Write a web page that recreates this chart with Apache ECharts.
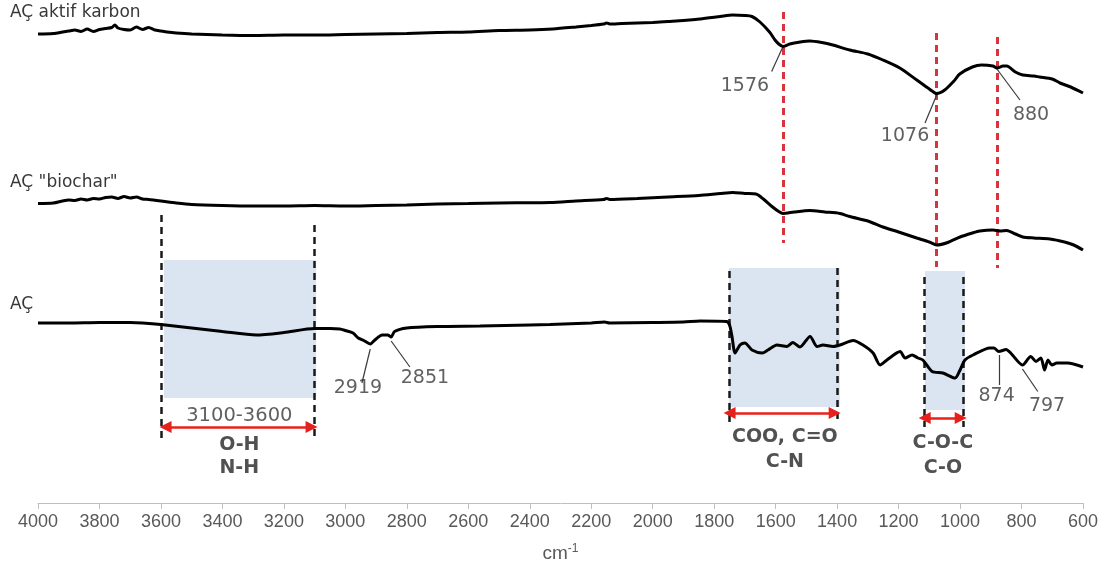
<!DOCTYPE html>
<html>
<head>
<meta charset="utf-8">
<script src="https://cdn.jsdelivr.net/npm/echarts@6/dist/echarts.min.js"></script>
<style>
  html, body { margin: 0; padding: 0; background: #fff; }
  #chart { width: 1102px; height: 568px; }
</style>
</head>
<body>
<div id="chart"></div>
<script>
// FTIR spectra (wavenumber in cm-1, offset transmittance in arbitrary units)
const karbonWn = [4000,3950,3920,3900,3880,3860,3840,3820,3800,3780,3760,3750,3740,3720,3700,3680,3660,3640,3620,3600,3580,3550,3500,3400,3300,3200,3100,3000,2900,2800,2700,2600,2500,2400,2325,2250,2200,2160,2150,2140,2100,2000,1950,1900,1846,1780,1740,1700,1677,1651,1620,1602,1590,1576,1554,1520,1489,1450,1414,1359,1300,1251,1196,1141,1100,1076,1050,1020,1001,960,930,893,880,860,848,820,796,760,741,700,675,640,600];
const karbonT = [93.8,93.9,94.2,94.4,94.6,94.3,94.8,94.3,94.7,94.9,95.1,95.6,95.0,94.7,94.6,95.2,94.7,95.1,94.6,94.4,94.2,94.0,93.8,93.6,93.5,93.6,93.6,93.7,93.8,93.9,94.1,94.2,94.5,94.6,94.8,95.2,95.5,95.8,96.0,95.8,95.9,96.1,96.3,96.5,96.8,97.3,97.6,97.5,97.3,96.2,94.2,92.6,91.8,91.3,91.8,92.2,92.4,92.1,91.6,90.6,89.8,88.6,87.0,84.6,82.8,81.9,82.6,84.4,85.8,87.2,87.6,87.4,87.0,87.4,87.4,86.2,85.6,85.4,85.2,84.8,84.0,83.2,82.0];

const biocharWn = [4000,3950,3920,3900,3880,3860,3840,3820,3800,3780,3760,3740,3720,3700,3680,3660,3640,3600,3550,3500,3400,3300,3200,3100,3000,2900,2800,2700,2600,2500,2334,2250,2160,2150,2140,2050,1950,1850,1780,1739,1700,1664,1640,1612,1590,1576,1540,1489,1440,1391,1359,1300,1251,1200,1141,1100,1076,1040,1000,960,936,893,870,848,820,796,760,708,660,630,600];
const biocharT = [59.9,60.0,60.4,60.6,60.5,60.8,60.6,60.9,60.8,61.1,61.2,60.9,61.3,61.0,61.2,60.8,60.7,60.4,60.0,59.7,59.5,59.4,59.4,59.5,59.4,59.5,59.6,59.8,59.9,60.0,60.1,60.4,60.7,60.9,60.7,60.9,61.2,61.5,61.9,62.1,61.9,61.8,60.8,59.3,58.3,57.9,58.2,58.5,58.2,57.9,57.3,56.4,55.2,54.2,53.0,52.2,51.6,52.1,53.2,54.0,54.4,54.6,54.4,54.5,53.8,53.2,53.0,52.8,52.2,51.6,50.6];

const acWn = [4000,3900,3800,3700,3660,3600,3500,3400,3290,3200,3100,3050,3018,3000,2975,2958,2940,2919,2904,2880,2862,2851,2840,2800,2700,2562,2400,2334,2200,2157,2140,2000,1900,1846,1760,1750,1742,1732,1716,1700,1677,1644,1625,1596,1563,1544,1521,1488,1465,1446,1413,1391,1348,1316,1283,1260,1238,1195,1179,1156,1137,1121,1091,1056,1016,1000,984,958,903,890,874,850,834,797,770,753,737,725,714,701,685,650,600];
const acT = [36.0,36.0,36.1,36.1,36.0,35.7,35.0,34.3,33.6,34.1,34.9,34.9,34.8,34.5,34.0,33.0,32.5,31.8,32.6,33.6,33.6,33.2,34.3,35.0,35.3,35.4,35.6,35.7,36.0,36.2,36.0,36.1,36.2,36.4,36.3,35.6,33.3,30.0,31.6,32.0,30.6,30.0,30.6,31.6,31.3,32.1,31.2,33.3,31.3,31.6,31.3,31.6,32.5,31.6,30.0,27.6,28.6,30.3,29.0,29.6,29.0,28.6,26.3,26.0,25.0,26.6,28.6,29.6,31.0,31.0,30.3,30.7,29.9,27.6,29.3,28.3,29.0,26.6,28.6,27.6,28.0,28.0,27.2];

// marked peaks (cm-1)
const redPeaks = [1576, 1076, 880];
const acPeaks = [2919, 2851, 874, 797];
// band assignments: [high, low] wavenumber limits
const bandOH = [3600, 3100];
const bandCOO = [1750, 1400];
const bandCOC = [1115, 990];

const pairs = (xs, ys) => xs.map((x, i) => [x, ys[i]]);

const FONT = 'DejaVu Sans';
const GREY = '#383838';
const DARK = '#262626';

// vertical marker lines
const redStyle = { color: '#d8333f', width: 3, type: [7, 5] };
const blackStyle = { color: '#1a1a1a', width: 2.5, type: [7, 5] };
const leaderStyle = { color: '#3a3a3a', width: 1.2, type: 'solid' };
const arrowStyle = { color: '#e8201c', width: 2.5, type: 'solid' };

const vline = (x, y1, y2, style) => [
  { coord: [x, y1], lineStyle: style, symbol: 'none' },
  { coord: [x, y2], symbol: 'none' }
];
const seg = (x1, y1, x2, y2, style) => [
  { coord: [x1, y1], lineStyle: style, symbol: 'none' },
  { coord: [x2, y2], symbol: 'none' }
];
const arrow = (x1, x2, y) => [
  { coord: [x1, y], lineStyle: arrowStyle, symbol: 'triangle', symbolSize: 12, itemStyle: { color: '#e8201c' } },
  { coord: [x2, y], symbol: 'triangle', symbolSize: 12, itemStyle: { color: '#e8201c' } }
];

const markLines = [
  vline(redPeaks[0], 98.2, 52.0, redStyle),
  vline(redPeaks[1], 94.0, 47.2, redStyle),
  vline(redPeaks[2], 93.2, 47.0, redStyle),
  vline(bandOH[0], 57.6, 13.0, blackStyle),
  vline(bandOH[1], 55.6, 13.0, blackStyle),
  vline(bandCOO[0], 46.4, 16.0, blackStyle),
  vline(bandCOO[1], 47.0, 16.6, blackStyle),
  vline(bandCOC[0], 45.2, 15.2, blackStyle),
  vline(bandCOC[1], 45.2, 15.2, blackStyle),
  // leader lines from peak labels
  seg(1613, 86.3, redPeaks[0], 91.3, leaderStyle),
  seg(1114, 76.0, redPeaks[1], 81.6, leaderStyle),
  seg(805, 80.6, redPeaks[2], 86.8, leaderStyle),
  seg(2946, 24.0, acPeaks[0], 30.8, leaderStyle),
  seg(2790, 27.2, acPeaks[1], 32.4, leaderStyle),
  seg(acPeaks[2], 23.6, acPeaks[2], 29.6, leaderStyle),
  seg(747, 22.3, acPeaks[3], 26.8, leaderStyle),
  // band range arrows
  arrow(bandOH[0] - 15, bandOH[1] + 10, 15.2),
  arrow(bandCOO[0], bandCOO[1] + 8, 18.0),
  arrow(bandCOC[0], bandCOC[1] + 8, 17.0)
];

const shaded = [
  [{ coord: [3590, 48.6] }, { coord: [3095, 21.0] }],
  [{ coord: [1752, 47.0] }, { coord: [1391, 19.2] }],
  [{ coord: [1114, 46.4] }, { coord: [984, 18.6] }]
];

const txt = (x, y, text, size, bold, color) => ({
  value: [x, y],
  label: {
    show: true, position: 'inside', formatter: text,
    fontFamily: FONT, fontSize: size, fontWeight: bold ? 'bold' : 'normal',
    color: color || GREY
  }
});

const texts = [
  txt(1700, 83.3, String(redPeaks[0]), 19),
  txt(1179, 73.3, String(redPeaks[1]), 19),
  txt(769, 77.6, String(redPeaks[2]), 19),
  txt(2959, 23.0, String(acPeaks[0]), 19),
  txt(2741, 25.0, String(acPeaks[1]), 19),
  txt(881, 21.3, String(acPeaks[2]), 19),
  txt(717, 19.3, String(acPeaks[3]), 19),
  txt(3345, 17.4, bandOH[1] + '-' + bandOH[0], 19.5),
  txt(3345, 11.6, 'O-H', 19, true, DARK),
  txt(3345, 7.0, 'N-H', 19, true, DARK),
  txt(1570, 13.2, 'COO, C=O', 19, true, DARK),
  txt(1570, 8.2, 'C-N', 19, true, DARK),
  txt(1056, 12.0, 'C-O-C', 19, true, DARK),
  txt(1056, 7.0, 'C-O', 19, true, DARK)
];

const spectrum = (name, xs, ys) => ({
  name, type: 'line', data: pairs(xs, ys), z: 5,
  showSymbol: false, smooth: 0.25, silent: true,
  lineStyle: { color: '#000', width: 3 }
});

const chart = echarts.init(document.getElementById('chart'), null, { renderer: 'canvas' });
chart.setOption({
  animation: false,
  backgroundColor: '#fff',
  grid: { left: 38, right: 19, top: 3, bottom: 65 },
  xAxis: {
    type: 'value', min: 600, max: 4000, interval: 200, inverse: true,
    axisLine: { show: true, onZero: false, lineStyle: { color: '#bfbfbf', width: 1 } },
    axisTick: { show: true, length: 6, lineStyle: { color: '#bfbfbf' } },
    splitLine: { show: false },
    axisLabel: { color: '#595959', fontFamily: 'Liberation Sans', fontSize: 18, margin: 10, formatter: v => String(v) },
    name: '{b|cm}{s|-1}', nameLocation: 'middle', nameGap: 40,
    nameTextStyle: {
      rich: {
        b: { fontFamily: 'Liberation Sans', fontSize: 19, color: '#595959' },
        s: { fontFamily: 'Liberation Sans', fontSize: 12, color: '#595959', verticalAlign: 'top', padding: [0, 0, 9, 0] }
      }
    }
  },
  yAxis: { type: 'value', min: 0, max: 100, show: false },
  series: [
    {
      name: 'bands', type: 'line', data: [], z: 1, silent: true,
      markArea: { silent: true, itemStyle: { color: '#dbe5f1' }, data: shaded }
    },
    spectrum('AÇ aktif karbon', karbonWn, karbonT),
    spectrum('AÇ "biochar"', biocharWn, biocharT),
    spectrum('AÇ', acWn, acT),
    {
      name: 'markers', type: 'line', data: [], z: 6, silent: true,
      markLine: { silent: true, animation: false, label: { show: false }, symbol: ['none', 'none'], data: markLines }
    },
    {
      name: 'labels', type: 'scatter', data: texts, z: 7, silent: true,
      symbolSize: 1, itemStyle: { color: 'rgba(0,0,0,0)' }
    }
  ],
  graphic: [
    { type: 'text', left: 10, top: 4, style: { text: 'AÇ aktif karbon', font: '17px "DejaVu Sans"', fill: GREY } },
    { type: 'text', left: 10, top: 174, style: { text: 'AÇ "biochar"', font: '17px "DejaVu Sans"', fill: GREY } },
    { type: 'text', left: 10, top: 296, style: { text: 'AÇ', font: '17px "DejaVu Sans"', fill: GREY } }
  ]
});
</script>
</body>
</html>
